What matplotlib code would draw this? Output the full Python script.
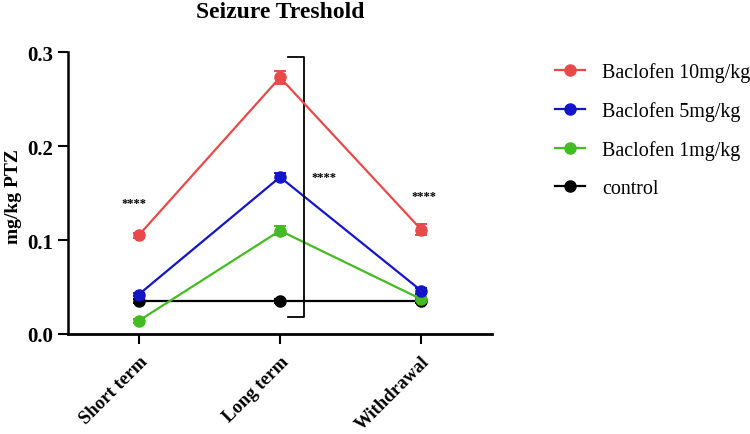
import matplotlib
matplotlib.use("Agg")
import matplotlib.pyplot as plt
from matplotlib.lines import Line2D

plt.rcParams['font.family'] = ['Liberation Serif', 'DejaVu Serif']

categories = ["Short term", "Long term", "Withdrawal"]
series_names = ["Baclofen 10mg/kg", "Baclofen 5mg/kg", "Baclofen 1mg/kg", "control"]
bac10 = [0.105, 0.273, 0.111]
bac10_err = [0.003, 0.007, 0.006]
bac5 = [0.042, 0.167, 0.046]
bac5_err = [0.002, 0.004, 0.003]
bac1 = [0.014, 0.110, 0.037]
bac1_err = [0.002, 0.005, 0.002]
control = [0.035, 0.035, 0.035]
control_err = [0.002, 0.002, 0.002]
colors = ["#e84a4a", "#1414c8", "#44bb22", "#000000"]

fig = plt.figure(figsize=(7.5, 4.35), dpi=100)
ax = fig.add_axes([0.0907, 0.2299, 0.5653, 0.648])

x = list(range(len(categories)))
data = [(bac10, bac10_err), (bac5, bac5_err), (bac1, bac1_err), (control, control_err)]
order = [3, 2, 1, 0]
for i in order:
    vals, errs = data[i]
    ax.errorbar(x, vals, yerr=errs, color=colors[i], marker='o', markersize=8,
                linewidth=1.6, capsize=4, elinewidth=1.4, capthick=1.4,
                zorder=3 + (3 - i) if i != 3 else 2)

ax.set_xlim(-0.5, 2.5)
ax.set_ylim(0, 0.3)
ax.set_yticks([0.0, 0.1, 0.2, 0.3])
ax.set_yticklabels(["0.0", "0.1", "0.2", "0.3"])
ax.set_xticks(x)
ax.set_xticklabels(categories, rotation=45, ha='right', rotation_mode='anchor')
for lab in ax.get_yticklabels():
    lab.set_fontweight('bold')
    lab.set_fontsize(15)
for lab in ax.get_xticklabels():
    lab.set_fontweight('bold')
    lab.set_fontsize(13.5)
ax.tick_params(axis='y', length=7.5, width=1.5, pad=3)
ax.tick_params(axis='x', length=7.5, width=1.5, pad=6)
ax.spines['top'].set_visible(False)
ax.spines['right'].set_visible(False)
ax.spines['left'].set_linewidth(1.8)
ax.spines['bottom'].set_linewidth(2.0)

fig.text(14 / 750, 0.547, "mg/kg PTZ", fontsize=14, fontweight='bold',
         rotation=90, ha='center', va='center')
fig.text(0.373, 1 - 12 / 435, "Seizure Treshold", fontsize=17, fontweight='bold',
         ha='center', va='center')

# significance bracket
bx = 1.167
ax.plot([1.06, bx, bx, 1.06], [0.295, 0.295, 0.018, 0.018], color='black', linewidth=1.3,
        clip_on=False, zorder=6)
ax.text(1.31, 0.167, "****", fontsize=9, fontweight='bold', ha='center', va='center')
ax.text(-0.03, 0.139, "****", fontsize=9, fontweight='bold', ha='center', va='center')
ax.text(2.02, 0.147, "****", fontsize=9, fontweight='bold', ha='center', va='center')

handles = [Line2D([0], [0], color=c, marker='o', markersize=8, linewidth=1.6) for c in colors]
fig.legend(handles, series_names, loc='upper left', bbox_to_anchor=(0.716, 0.897),
           frameon=False, fontsize=14.4, handlelength=1.5, labelspacing=0.96,
           handletextpad=0.85)

fig.savefig("out.png", dpi=100)
